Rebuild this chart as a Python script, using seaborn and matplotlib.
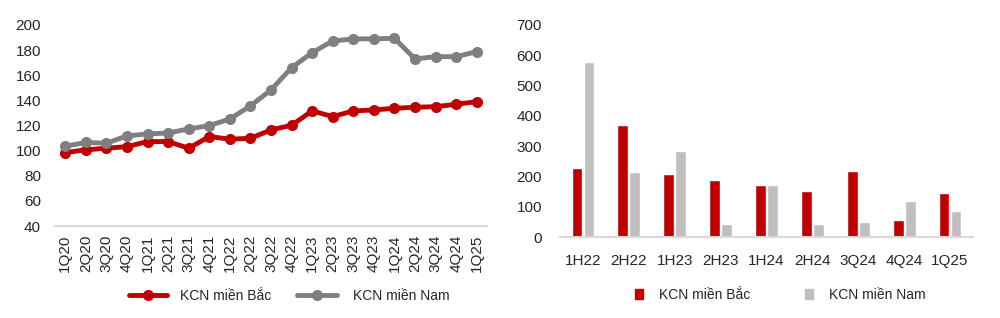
import matplotlib
matplotlib.use("Agg")
import matplotlib.pyplot as plt
import seaborn as sns
import pandas as pd
from matplotlib.patches import Patch
from matplotlib.lines import Line2D
from matplotlib import font_manager

quarters = ["1Q20", "2Q20", "3Q20", "4Q20", "1Q21", "2Q21", "3Q21", "4Q21",
            "1Q22", "2Q22", "3Q22", "4Q22", "1Q23", "2Q23", "3Q23", "4Q23",
            "1Q24", "2Q24", "3Q24", "4Q24", "1Q25"]
bac_line = [98.5, 100.6, 101.9, 103.2, 107.2, 107.2, 101.9, 111.2,
            109.1, 109.8, 116.5, 120.2, 131.6, 127.1, 131.6, 132.4,
            133.7, 134.5, 135.0, 136.9, 139.0]
nam_line = [103.5, 106.5, 105.9, 111.7, 113.3, 114.0, 117.3, 119.9,
            125.2, 135.6, 148.3, 166.0, 178.0, 187.3, 188.9, 189.0,
            189.4, 173.0, 174.8, 174.8, 178.8]

periods = ["1H22", "2H22", "1H23", "2H23", "1H24", "2H24", "3Q24", "4Q24", "1Q25"]
bac_bar = [229, 369, 210, 188, 173, 153, 219, 56, 146]
nam_bar = [579, 214, 286, 44, 171, 43, 52, 120, 87]

series_names = ["KCN miền Bắc", "KCN miền Nam"]
RED = "#C00000"
GRAY_LINE = "#7F7F7F"
GRAY_BAR = "#BFBFBF"

sns.set_theme(style="white")
avail = {f.name for f in font_manager.fontManager.ttflist}
fam = "Liberation Sans Narrow" if "Liberation Sans Narrow" in avail else "Liberation Sans"
plt.rcParams["font.family"] = [fam, "DejaVu Sans"]
plt.rcParams["text.color"] = "#262626"

fig = plt.figure(figsize=(10, 3.18), dpi=100)
W, H = 1000, 318

def axes_px(left, right, top, bottom):
    return fig.add_axes([left / W, 1 - bottom / H, (right - left) / W, (bottom - top) / H])

def legend_item(handle, label, x_px, y_px, **kw):
    fig.legend([handle], [label], loc="center left", bbox_to_anchor=(x_px / W, 1 - y_px / H),
               frameon=False, fontsize=10, borderpad=0, borderaxespad=0, **kw)

# ---- Left: line chart
ax1 = axes_px(55, 487, 25, 226)
df_line = pd.DataFrame({
    "x": list(range(len(quarters))) * 2,
    "v": bac_line + nam_line,
    "s": [series_names[0]] * len(quarters) + [series_names[1]] * len(quarters),
})
sns.lineplot(data=df_line, x="x", y="v", hue="s", hue_order=series_names,
             palette=[RED, GRAY_LINE], marker="o", markersize=8, linewidth=3.5,
             markeredgewidth=0, ax=ax1, legend=False, clip_on=False)
ax1.set_xlim(-0.5, len(quarters) - 0.5)
ax1.set_ylim(40, 200)
ax1.set_yticks(range(40, 201, 20))
ax1.set_xticks(range(len(quarters)))
ax1.set_xticklabels(quarters, rotation=90)
ax1.set_xlabel("")
ax1.set_ylabel("")
for s in ["top", "right", "left"]:
    ax1.spines[s].set_visible(False)
ax1.spines["bottom"].set_color("#D9D9D9")
ax1.spines["bottom"].set_linewidth(1.5)
ax1.tick_params(axis="both", length=0, labelsize=11, colors="#262626")
ax1.tick_params(axis="y", pad=10)
ax1.tick_params(axis="x", pad=6)

legend_item(Line2D([], [], color=RED, lw=3.5, marker="o", markersize=8, markeredgewidth=0),
            series_names[0], 129, 296, handlelength=2.7, handletextpad=1.0)
legend_item(Line2D([], [], color=GRAY_LINE, lw=3.5, marker="o", markersize=8, markeredgewidth=0),
            series_names[1], 297, 296, handlelength=2.9, handletextpad=1.1)

# ---- Right: bar chart
ax2 = axes_px(560, 973, 25, 237.3)
df_bar = pd.DataFrame({
    "p": periods * 2,
    "v": bac_bar + nam_bar,
    "s": [series_names[0]] * len(periods) + [series_names[1]] * len(periods),
})
sns.barplot(data=df_bar, x="p", y="v", hue="s", hue_order=series_names, order=periods,
            palette=[RED, GRAY_BAR], width=0.52, gap=0.1, ax=ax2, legend=False,
            saturation=1)
ax2.set_xlim(-0.5, len(periods) - 0.5)
ax2.set_ylim(0, 700)
ax2.set_yticks(range(0, 701, 100))
ax2.set_xlabel("")
ax2.set_ylabel("")
for s in ["top", "right", "left"]:
    ax2.spines[s].set_visible(False)
ax2.spines["bottom"].set_color("#D9D9D9")
ax2.spines["bottom"].set_linewidth(1.5)
ax2.tick_params(axis="both", length=0, labelsize=11, colors="#262626")
ax2.tick_params(axis="y", pad=13)
ax2.tick_params(axis="x", pad=12)

legend_item(Patch(color=RED), series_names[0], 635, 295,
            handlelength=0.6, handleheight=0.8, handletextpad=1.1)
legend_item(Patch(color=GRAY_BAR), series_names[1], 805, 295,
            handlelength=0.6, handleheight=0.8, handletextpad=1.1)

fig.savefig("out.png", dpi=100)
